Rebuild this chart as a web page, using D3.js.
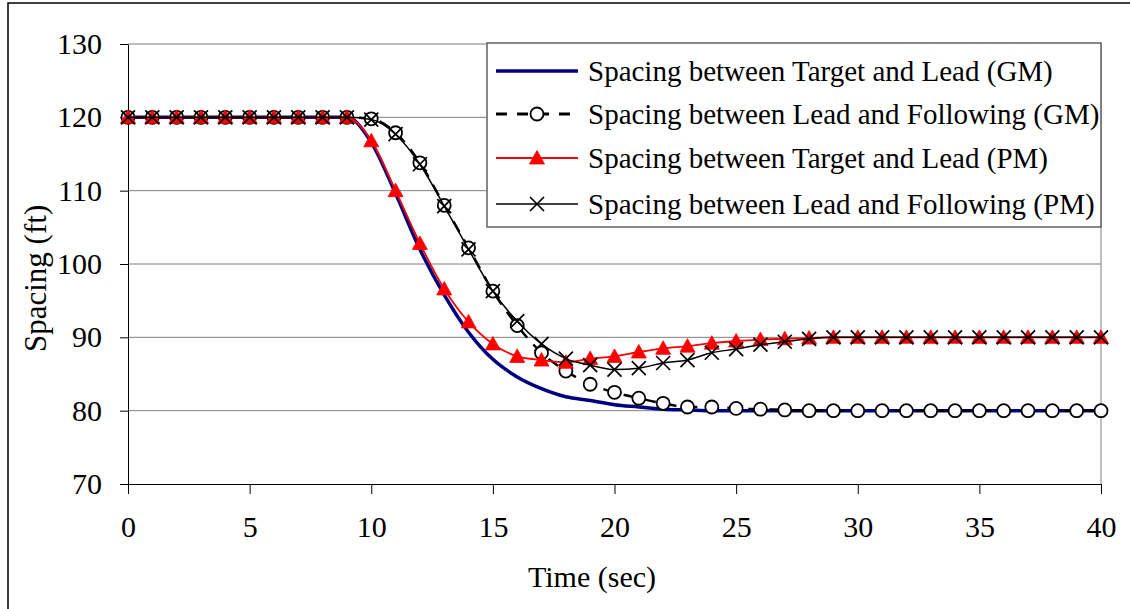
<!DOCTYPE html>
<html>
<head>
<meta charset="utf-8">
<script src="https://cdn.jsdelivr.net/npm/d3@7"></script>
<style>
  html, body { margin: 0; padding: 0; background: #fff; }
  svg { display: block; }
  text { font-family: "Liberation Serif", "Times New Roman", serif; fill: #000; }
</style>
</head>
<body>
<svg id="chart" width="1130" height="609"></svg>
<script>
// ---- data ----
const time = d3.range(0, 41); // seconds 0..40
const gmTargetLead = [120,120,120,120,120,120,120,120,120,120,
  116.6,109.6,102.0,95.8,90.7,87.0,84.6,83.0,81.9,81.4,
  80.8,80.5,80.2,80.1,80,80,80,80,80,80,
  80,80,80,80,80,80,80,80,80,80,80];
const gmLeadFollowing = [120,120,120,120,120,120,120,120,120,120,
  119.8,117.9,113.8,108.0,102.2,96.3,91.6,87.9,85.4,83.6,
  82.5,81.7,81.0,80.5,80.5,80.3,80.2,80.1,80,80,
  80,80,80,80,80,80,80,80,80,80,80];
const pmTargetLead = [120,120,120,120,120,120,120,120,120,120,
  116.8,110.0,102.8,96.6,92.1,89.1,87.4,86.9,86.6,87.1,
  87.4,88.0,88.5,88.8,89.2,89.5,89.7,89.8,89.9,90,
  90,90,90,90,90,90,90,90,90,90,90];
const pmLeadFollowing = [120,120,120,120,120,120,120,120,120,120,
  119.7,117.7,113.6,107.9,102.0,96.3,92.2,89.1,87.1,86.2,
  85.6,85.8,86.5,86.9,87.9,88.4,89.0,89.4,89.8,90,
  90,90,90,90,90,90,90,90,90,90,90];
const seriesNames = [
  "Spacing between Target and Lead (GM)",
  "Spacing between Lead and Following (GM)",
  "Spacing between Target and Lead (PM)",
  "Spacing between Lead and Following (PM)"
];
const xTicks = [0,5,10,15,20,25,30,35,40];
const yTicks = [70,80,90,100,110,120,130];
const xTitle = "Time (sec)";
const yTitle = "Spacing (ft)";

// ---- drawing ----
const svg = d3.select("#chart");
const L = 128, R = 1101, T = 44, B = 484;
const x = d3.scaleLinear().domain([0, 40]).range([L, R]);
const y = d3.scaleLinear().domain([70, 130]).range([B, T]);

// outer chart border
svg.append("rect").attr("x", 8).attr("y", 3).attr("width", 1140).attr("height", 640)
  .attr("fill", "none").attr("stroke", "#000").attr("stroke-width", 1.5);

// gridlines
svg.append("g").selectAll("line").data(yTicks.filter(v => v > 70)).join("line")
  .attr("x1", L).attr("x2", R).attr("y1", d => y(d)).attr("y2", d => y(d))
  .attr("stroke", "#808080").attr("stroke-width", 1);
// right plot border
svg.append("line").attr("x1", R).attr("x2", R).attr("y1", T).attr("y2", B)
  .attr("stroke", "#808080").attr("stroke-width", 1);

// axes
const xAxis = d3.axisBottom(x).tickValues(xTicks).tickSize(10).tickPadding(22).tickSizeOuter(0);
const gx = svg.append("g").attr("transform", `translate(0,${B})`).call(xAxis);
gx.select(".domain").attr("stroke", "#000");
gx.selectAll(".tick line").attr("stroke", "#000");
gx.selectAll("text").attr("font-size", 30).attr("font-family", "Liberation Serif").attr("fill", "#000");

const yAxis = d3.axisLeft(y).tickValues(yTicks).tickSize(8).tickPadding(18).tickSizeOuter(0);
const gy = svg.append("g").attr("transform", `translate(${L},0)`).call(yAxis);
gy.select(".domain").attr("stroke", "#000");
gy.selectAll(".tick line").attr("stroke", "#000");
gy.selectAll("text").attr("font-size", 30).attr("font-family", "Liberation Serif").attr("fill", "#000");

// titles
svg.append("text").attr("x", 592).attr("y", 587).attr("text-anchor", "middle")
  .attr("font-size", 30).text(xTitle);
svg.append("text").attr("transform", "translate(46,352) rotate(-90)")
  .attr("text-anchor", "start").attr("font-size", 31).text(yTitle);

// series
const curve = d3.curveMonotoneX;
const mk = arr => time.map((t, i) => [t, arr[i]]);
const line = d3.line().x(d => x(d[0])).y(d => y(d[1])).curve(curve);

const s1 = mk(gmTargetLead), s2 = mk(gmLeadFollowing), s3 = mk(pmTargetLead), s4 = mk(pmLeadFollowing);

function triPath(cx, cy) { return `M${cx},${cy-7.5}L${cx+7.5},${cy+6}L${cx-7.5},${cy+6}Z`; }
function crossPath(cx, cy) { const r = 7; return `M${cx-r},${cy-r}L${cx+r},${cy+r}M${cx-r},${cy+r}L${cx+r},${cy-r}`; }

// 1 GM target-lead
svg.append("path").attr("d", line(s1)).attr("fill", "none").attr("stroke", "#000080").attr("stroke-width", 3.5);
// 2 GM lead-following dashed with circles
svg.append("path").attr("d", line(s2)).attr("fill", "none").attr("stroke", "#000").attr("stroke-width", 2.5)
  .attr("stroke-dasharray", "12,9");
svg.append("g").selectAll("circle").data(s2).join("circle")
  .attr("cx", d => x(d[0])).attr("cy", d => y(d[1])).attr("r", 6.5)
  .attr("fill", "#fff").attr("stroke", "#000").attr("stroke-width", 1.8);
// 3 PM target-lead red triangles
svg.append("path").attr("d", line(s3)).attr("fill", "none").attr("stroke", "#ff0000").attr("stroke-width", 1.8);
svg.append("g").selectAll("path").data(s3).join("path")
  .attr("d", d => triPath(x(d[0]), y(d[1]))).attr("fill", "#ff0000").attr("stroke", "#ff0000").attr("stroke-width", 0.8);
// 4 PM lead-following black crosses
svg.append("path").attr("d", line(s4)).attr("fill", "none").attr("stroke", "#000").attr("stroke-width", 1.5);
svg.append("g").selectAll("path").data(s4).join("path")
  .attr("d", d => crossPath(x(d[0]), y(d[1]))).attr("fill", "none").attr("stroke", "#000").attr("stroke-width", 1.7);

// legend
const lg = svg.append("g");
lg.append("rect").attr("x", 487).attr("y", 43).attr("width", 614).attr("height", 184)
  .attr("fill", "#fff").attr("stroke", "#606060").attr("stroke-width", 1.5);
const rowsY = [71, 114, 158, 204];
const lx1 = 496, lx2 = 578, lm = 537, tx = 588;
// row 1
lg.append("line").attr("x1", lx1).attr("x2", lx2).attr("y1", rowsY[0]).attr("y2", rowsY[0])
  .attr("stroke", "#000080").attr("stroke-width", 3.5);
// row 2
lg.append("line").attr("x1", lx1).attr("x2", lx2).attr("y1", rowsY[1]).attr("y2", rowsY[1])
  .attr("stroke", "#000").attr("stroke-width", 3).attr("stroke-dasharray", "11,10");
lg.append("circle").attr("cx", lm).attr("cy", rowsY[1]).attr("r", 6.5)
  .attr("fill", "#fff").attr("stroke", "#000").attr("stroke-width", 1.8);
// row 3
lg.append("line").attr("x1", lx1).attr("x2", lx2).attr("y1", rowsY[2]).attr("y2", rowsY[2])
  .attr("stroke", "#ff0000").attr("stroke-width", 1.8);
lg.append("path").attr("d", triPath(lm, rowsY[2])).attr("fill", "#ff0000").attr("stroke", "#ff0000").attr("stroke-width", 0.8);
// row 4
lg.append("line").attr("x1", lx1).attr("x2", lx2).attr("y1", rowsY[3]).attr("y2", rowsY[3])
  .attr("stroke", "#000").attr("stroke-width", 1.5);
lg.append("path").attr("d", crossPath(lm, rowsY[3])).attr("fill", "none").attr("stroke", "#000").attr("stroke-width", 1.7);

lg.selectAll("text.lt").data(seriesNames).join("text").attr("class", "lt")
  .attr("x", tx).attr("y", (d, i) => rowsY[i]).attr("dy", "0.35em")
  .attr("font-size", 29).text(d => d);
</script>
</body>
</html>
